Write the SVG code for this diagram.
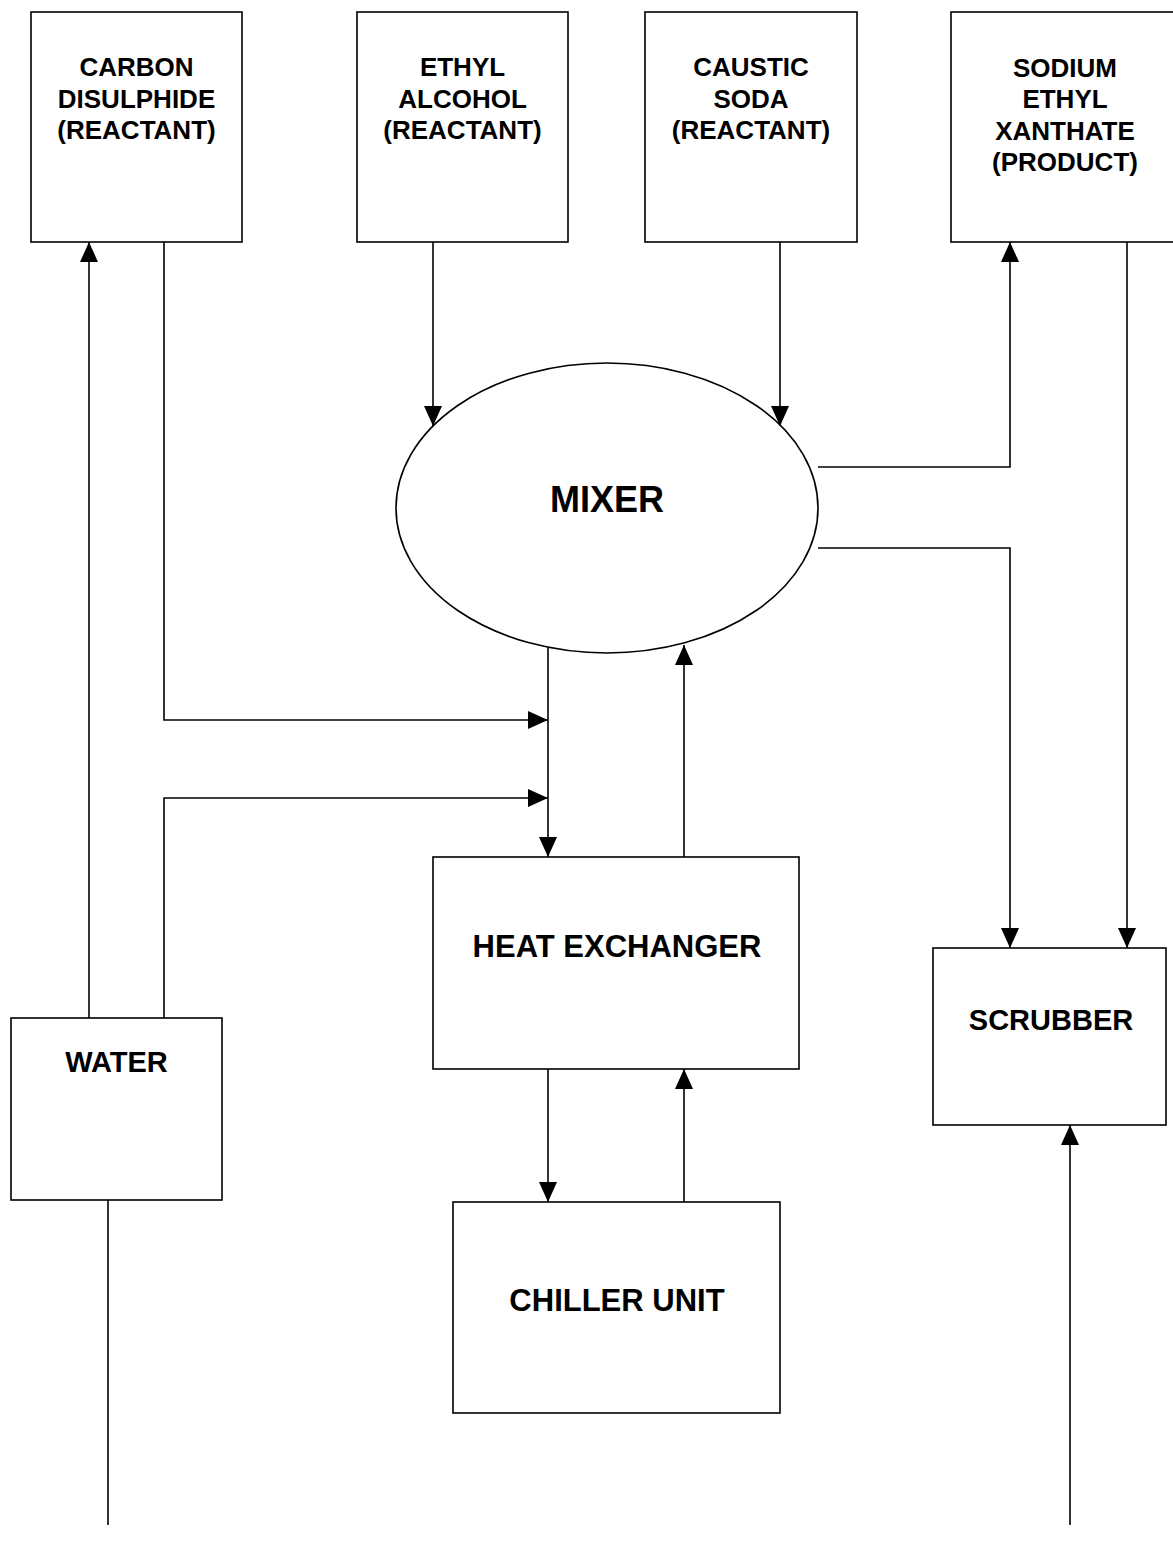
<svg xmlns="http://www.w3.org/2000/svg" width="1173" height="1544" viewBox="0 0 1173 1544">
<style>
.box{fill:#fff;stroke:#000;stroke-width:1.6}
.ln{fill:none;stroke:#000;stroke-width:1.6}
.arr{marker-end:url(#ah)}
text{font-family:"Liberation Sans",Arial,sans-serif;font-weight:bold;fill:#000;text-anchor:middle}
.t1{font-size:26px}
.t2{font-size:31px}
.t3{font-size:36px}
</style>
<defs>
<marker id="ah" markerUnits="userSpaceOnUse" markerWidth="20" markerHeight="18" refX="20" refY="9" orient="auto">
<path d="M0,0 L20,9 L0,18 z" fill="#000"/>
</marker>
</defs>
<rect width="1173" height="1544" fill="#fff"/>
<g id="carbon">
<rect class="box" x="31" y="12" width="211" height="230"/>
<text class="t1" x="136.5" y="76">CARBON</text>
<text class="t1" x="136.5" y="108">DISULPHIDE</text>
<text class="t1" x="136.5" y="139">(REACTANT)</text>
</g>
<g id="ethyl">
<rect class="box" x="357" y="12" width="211" height="230"/>
<text class="t1" x="462.5" y="76">ETHYL</text>
<text class="t1" x="462.5" y="108">ALCOHOL</text>
<text class="t1" x="462.5" y="139">(REACTANT)</text>
</g>
<g id="caustic">
<rect class="box" x="645" y="12" width="212" height="230"/>
<text class="t1" x="751" y="76">CAUSTIC</text>
<text class="t1" x="751" y="108">SODA</text>
<text class="t1" x="751" y="139">(REACTANT)</text>
</g>
<g id="sodium">
<rect class="box" x="951" y="12" width="240" height="230"/>
<text class="t1" x="1065" y="77">SODIUM</text>
<text class="t1" x="1065" y="108">ETHYL</text>
<text class="t1" x="1065" y="140">XANTHATE</text>
<text class="t1" x="1065" y="171">(PRODUCT)</text>
</g>
<g id="mixer">
<ellipse class="box" cx="607" cy="508" rx="211" ry="145"/>
<text class="t3" x="607" y="512">MIXER</text>
</g>
<g id="heat-exchanger">
<rect class="box" x="433" y="857" width="366" height="212"/>
<text class="t2" x="617" y="957">HEAT EXCHANGER</text>
</g>
<g id="chiller">
<rect class="box" x="453" y="1202" width="327" height="211"/>
<text class="t2" x="617" y="1311">CHILLER UNIT</text>
</g>
<g id="water">
<rect class="box" x="11" y="1018" width="211" height="182"/>
<text class="t2" x="116.5" y="1072" style="font-size:29px">WATER</text>
</g>
<g id="scrubber">
<rect class="box" x="933" y="948" width="233" height="177"/>
<text class="t2" x="1051" y="1030" style="font-size:29px">SCRUBBER</text>
</g>
<g id="connectors">
<path class="ln arr" d="M89,1018 V242"/>
<path class="ln arr" d="M164,242 V720 H548"/>
<path class="ln arr" d="M164,1018 V798 H548"/>
<path class="ln arr" d="M433,242 V426"/>
<path class="ln arr" d="M780,242 V426"/>
<path class="ln arr" d="M818,467 H1010 V242"/>
<path class="ln arr" d="M818,548 H1010 V948"/>
<path class="ln arr" d="M1127,242 V948"/>
<path class="ln arr" d="M1070,1525 V1125"/>
<path class="ln arr" d="M548,648 V857"/>
<path class="ln arr" d="M684,857 V645"/>
<path class="ln arr" d="M548,1069 V1202"/>
<path class="ln arr" d="M684,1202 V1069"/>
<path class="ln" d="M108,1200 V1525"/>
</g>
</svg>
